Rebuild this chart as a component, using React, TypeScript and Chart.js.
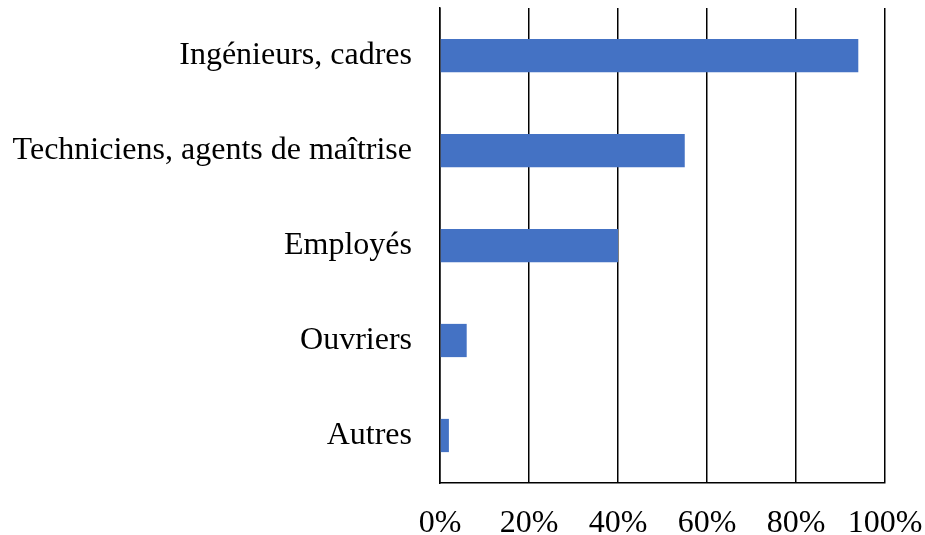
import React, { useEffect, useRef } from "react";
import { Chart, registerables } from "chart.js";

Chart.register(...registerables);

const categories = [
  "Ingénieurs, cadres",
  "Techniciens, agents de maîtrise",
  "Employés",
  "Ouvriers",
  "Autres",
];
const values = [94, 55, 40, 6, 2];
const xTicks = [0, 20, 40, 60, 80, 100];

const FONT = "'Liberation Serif', 'Times New Roman', serif";

export default function App() {
  const ref = useRef<HTMLCanvasElement | null>(null);

  useEffect(() => {
    if (!ref.current) return;
    const chart = new Chart(ref.current, {
      type: "bar",
      data: {
        labels: categories,
        datasets: [
          {
            data: values,
            backgroundColor: "#4472C4",
            borderWidth: 0,
            barPercentage: 0.35,
            categoryPercentage: 1,
          },
        ],
      },
      options: {
        indexAxis: "y",
        animation: false,
        responsive: false,
        maintainAspectRatio: false,
        layout: { padding: { top: 8, right: 40, left: 0, bottom: 0 } },
        plugins: {
          legend: { display: false },
          tooltip: { enabled: false },
        },
        scales: {
          x: {
            min: 0,
            max: 100,
            afterBuildTicks: (scale: any) => {
              scale.ticks = xTicks.map((v) => ({ value: v }));
            },
            afterFit: (scale: any) => {
              scale.height = 52;
              scale.paddingLeft = 0;
              scale.paddingRight = 0;
            },
            ticks: {
              color: "#000",
              font: { family: FONT, size: 32 },
              padding: 21,
              maxRotation: 0,
              callback: (v: any) => v + "%",
            },
            grid: {
              color: "#000",
              lineWidth: 1.5,
              drawTicks: false,
            },
            border: { color: "#000", width: 1.5 },
          },
          y: {
            afterFit: (scale: any) => {
              scale.width = 440;
              scale.paddingTop = 0;
              scale.paddingBottom = 0;
            },
            ticks: {
              color: "#000",
              font: { family: FONT, size: 32 },
              padding: 28,
            },
            grid: { display: false, drawTicks: false },
            border: { color: "#000", width: 1.5 },
          },
        },
      },
    });
    return () => chart.destroy();
  }, []);

  return (
    <div style={{ position: "absolute", left: 0, top: 0, width: 925, height: 535, background: "#fff" }}>
      <canvas ref={ref} width={925} height={535} />
    </div>
  );
}
